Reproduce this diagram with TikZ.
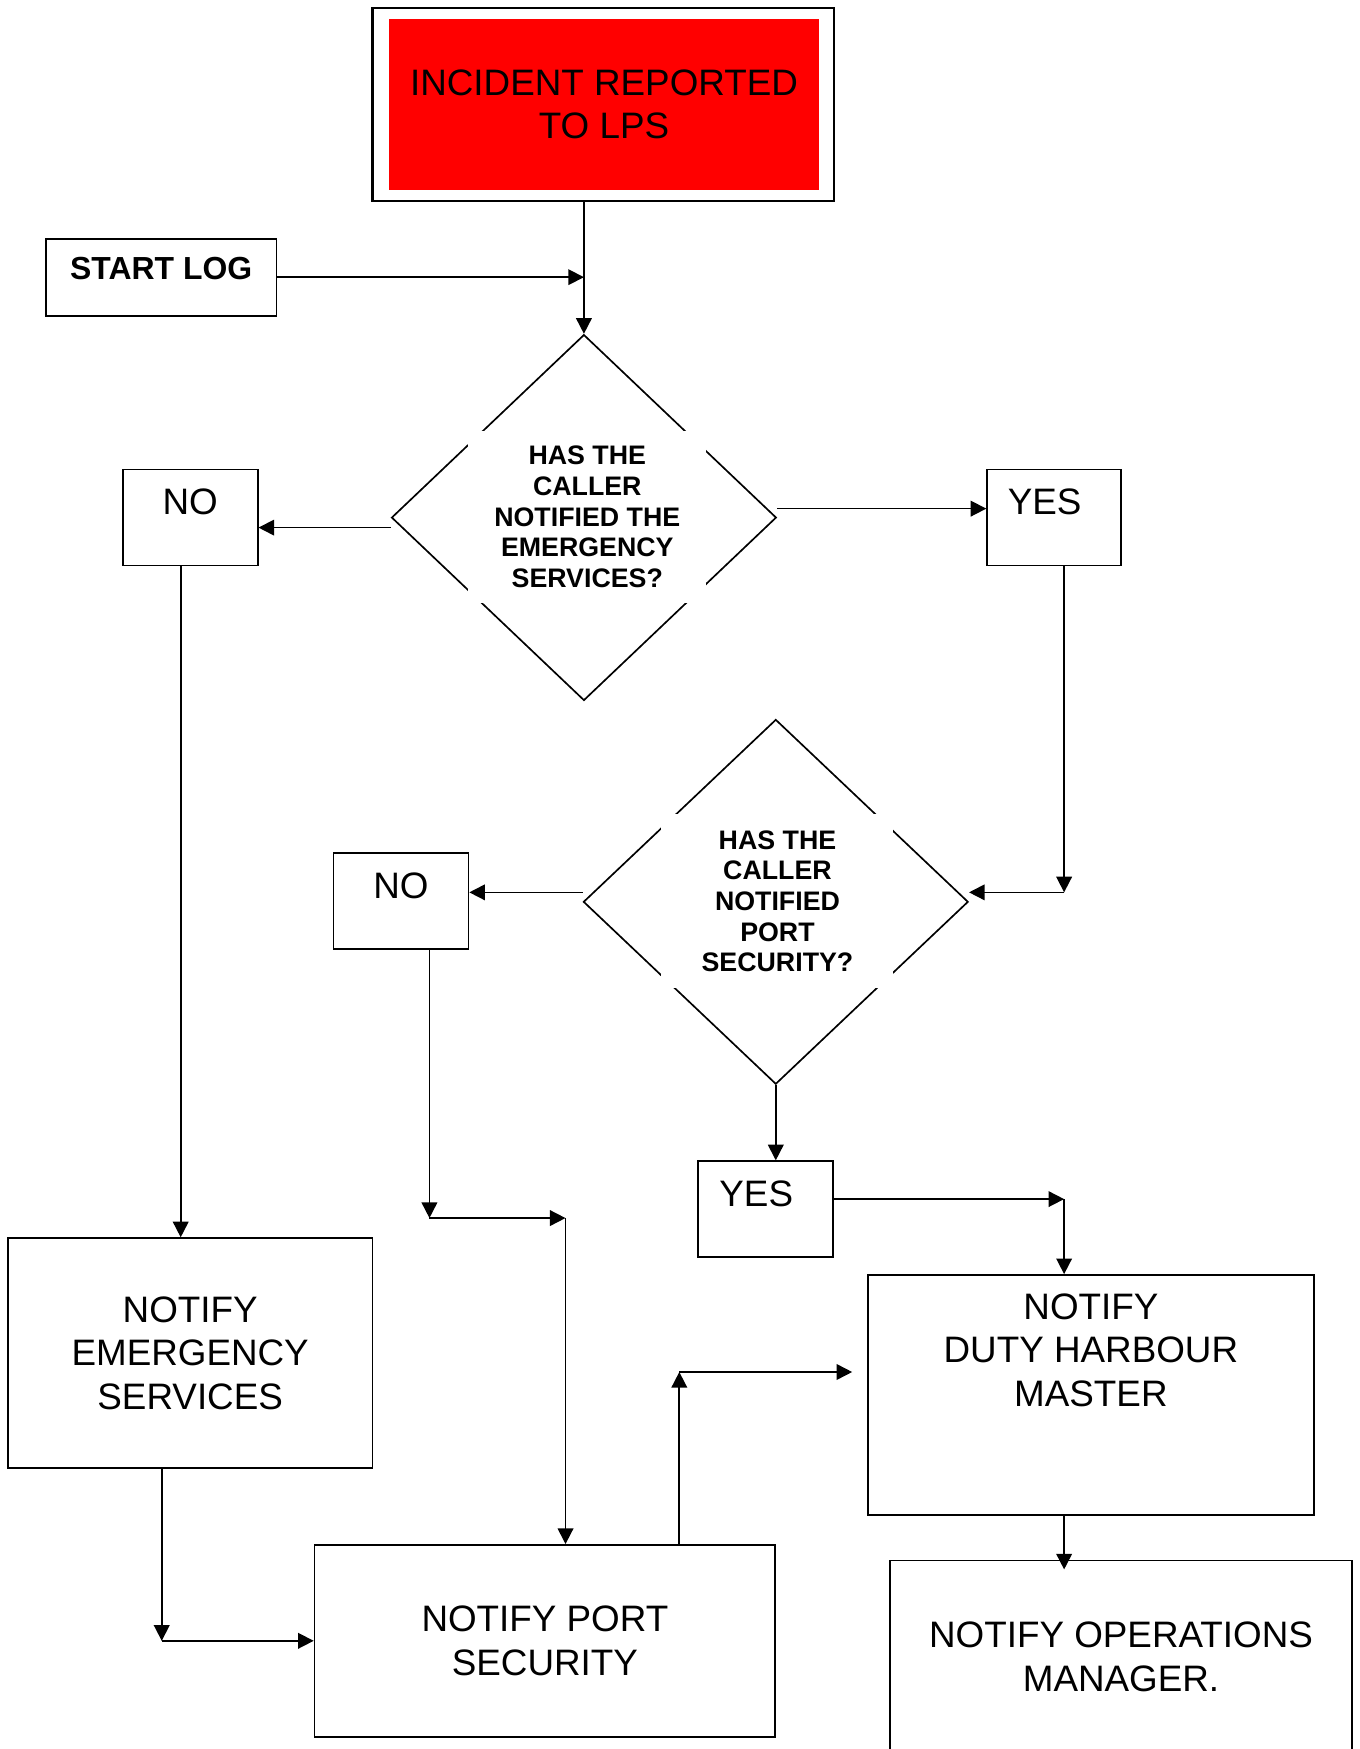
\documentclass[tikz,border=0pt]{standalone}
\usepackage{fontspec}
\setmainfont{Liberation Sans}
\usetikzlibrary{shapes.geometric,arrows.meta,positioning,calc}

\newcommand{\flowfont}{\fontsize{16.5}{19.5}\selectfont}
\newcommand{\askfont}{\bfseries\fontsize{12}{13.75}\selectfont}
\newcommand{\logfont}{\bfseries\fontsize{14.3}{17}\selectfont}

\tikzset{
	box/.style={draw, line width=0.75pt, inner sep=0pt, font=\flowfont},
	answer/.style={box, minimum width=60.5pt, minimum height=43pt, text depth=14pt},
	decision/.style={diamond, draw, line width=0.75pt, inner sep=0pt, minimum width=172.5pt, minimum height=164pt},
	ask/.style={fill=white, inner sep=0pt, font=\askfont, align=center},
	arr/.style={line width=0.75pt, -{Triangle[length=7pt,width=7pt]}}
}

\begin{document}
\begin{tikzpicture}[x=0.5pt, y=-0.5pt]
		\path[use as bounding box, clip] (0,0) rectangle (1219,1568);

		\node[draw, line width=1pt, fill=white, inner sep=0pt, minimum width=207pt, minimum height=86.5pt] (incident) at (541,93.5) {};
		\node[fill=red, inner sep=0pt, minimum width=192.5pt, minimum height=76.5pt, font=\flowfont, align=center] (incidentfill) at (541.5,93.5) {INCIDENT REPORTED\\TO LPS};
		\node[box, minimum width=103.5pt, minimum height=34.5pt, font=\logfont, text depth=7.5pt] (start) at (144.5,248.5) {START LOG};

		\node[decision] (d1) at (523.5,464) {};
		\node[ask, minimum width=106.5pt, minimum height=77.5pt] (q1) at (526.5,463.5) {HAS THE\\CALLER\\NOTIFIED THE\\EMERGENCY\\SERVICES?};
		\node[answer] (no1) at (170.5,464) {NO};
		\node[answer, minimum width=60pt] (yes1) at (945,464) {YES\hspace*{8.5pt}};

		\node[decision, minimum height=163.5pt] (d2) at (695.5,808.5) {};
		\node[ask, minimum width=104pt, minimum height=78pt] (q2) at (697,808) {HAS THE\\CALLER\\NOTIFIED\\PORT\\SECURITY?};
		\node[answer] (no2) at (359.5,808) {NO};
		\node[answer] (yes2) at (686.5,1084) {YES\hspace*{8.5pt}};

		\node[box, align=center, minimum width=163.5pt, minimum height=103pt] (emergency) at (170.5,1213) {NOTIFY\\EMERGENCY\\SERVICES};
		\node[box, align=center, minimum width=206.5pt, minimum height=86pt] (port) at (488.5,1471) {NOTIFY PORT\\SECURITY};
		\node[box, minimum width=200pt, minimum height=107.5pt,
			label={[name=harbourtext, font=\flowfont, align=center, inner sep=0pt, anchor=north, yshift=-8.5pt]north:{NOTIFY\\DUTY HARBOUR\\MASTER}}] (harbour) at (978,1250.5) {};
		\node[box, align=center, minimum width=207pt, minimum height=86.5pt] (operations) at (1005,1485.5) {NOTIFY OPERATIONS\\MANAGER.};

		\coordinate (yesturn) at (954,800);
		\coordinate (noturn) at (385,1092);
		\coordinate (portin) at (507,1092);
		\coordinate (yesturn2) at (954,1075);
		\coordinate (emturn) at (145,1471);
		\coordinate (portup) at (609,1230);
		\coordinate (harbourin) at (764,1230);
		\coordinate (opsin) at (954,1407);

		\draw[arr] (incident.south -| d1.north) -- (d1.north);
		\draw[arr] (start.east) -- (start.east -| d1.north);
		\draw[arr] ([yshift=-4.5pt]d1.west) -- ([yshift=-4.5pt]d1.west -| no1.east);
		\draw[arr] ([yshift=4pt]d1.east) -- ([yshift=4pt]d1.east -| yes1.west);
		\draw[arr] ([xshift=-4.25pt]no1.south) -- ([xshift=-4.25pt]no1.south |- emergency.north);
		\draw[arr] (yes1.south -| yesturn) -- (yesturn);
		\draw[arr] (yesturn) -- (yesturn -| d2.east);
		\draw[arr] ([yshift=4.25pt]d2.west) -- ([yshift=4.25pt]d2.west -| no2.east);
		\draw[arr] (no2.south -| noturn) -- (noturn);
		\draw[arr] (noturn) -- (portin);
		\draw[arr] (portin) -- (portin |- port.north);
		\draw[arr] (d2.south) -- (d2.south |- yes2.north);
		\draw[arr] (yes2.east |- yesturn2) -- (yesturn2);
		\draw[arr] (yesturn2) -- (yesturn2 |- harbour.north);
		\draw[arr] (emergency.south -| emturn) -- (emturn);
		\draw[arr] (emturn) -- (port.west);
		\draw[arr] (port.north -| portup) -- (portup);
		\draw[arr] (portup) -- (harbourin);
		\draw[arr] (harbour.south -| opsin) -- (opsin);
	\end{tikzpicture}
\end{document}
